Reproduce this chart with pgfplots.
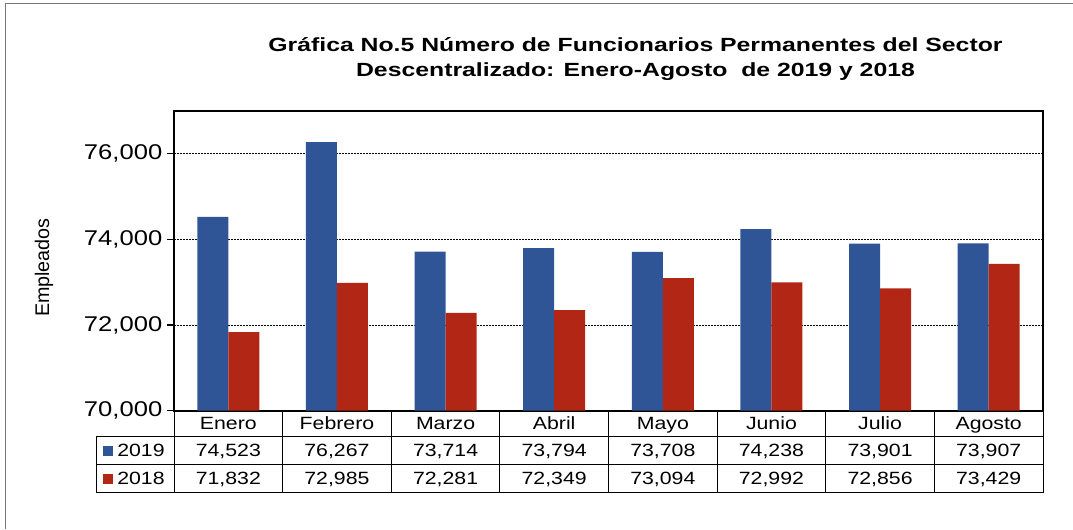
\documentclass[border=0pt]{standalone}
\usepackage{pgfplots}
\usepackage{pgfplotstable}
\pgfplotsset{compat=1.18}
\usepackage{fontspec}
\setmainfont{Liberation Sans}
\newfontfamily\wide{Liberation Sans}[FakeStretch=1.2]
\newfontfamily\widet{Liberation Sans}[FakeStretch=1.3]
\definecolor{bblue}{RGB}{47,85,151}
\definecolor{bred}{RGB}{178,38,22}
\definecolor{frame}{RGB}{120,120,120}

\pgfplotstableread{
idx mes v2019 v2018
0 Enero 74523 71832
1 Febrero 76267 72985
2 Marzo 73714 72281
3 Abril 73794 72349
4 Mayo 73708 73094
5 Junio 74238 72992
6 Julio 73901 72856
7 Agosto 73907 73429
}\datatable

\begin{document}
\begin{tikzpicture}
\begin{scope}[x=0.75pt,y=-0.75pt]
\useasboundingbox (0,0) rectangle (1073,529);
\draw[frame, line width=0.9pt] (5.7,529) -- (5.7,3.3) -- (1073,3.3);
\node[align=center, font={\widet\bfseries\fontsize{14.3}{18.75}\selectfont}] at (635.5,59.5)
  {Gráfica No.5 Número de Funcionarios Permanentes del Sector\\Descentralizado: Enero-Agosto\ \ de 2019 y 2018};
\end{scope}

\begin{axis}[
  at={(130.5pt,-308.025pt)}, anchor=south west,
  scale only axis, width=651.75pt, height=225pt,
  ybar=0pt, bar width=23.25pt,
  xmin=-0.5, xmax=7.5, xtick=\empty,
  ymin=70000, ymax=77000,
  ytick={70000,72000,74000,76000},
  ytick pos=left,
  yticklabel style={font={\wide\fontsize{16}{18}\selectfont}},
  /pgf/number format/assume math mode=true,
  /pgf/number format/1000 sep={,},
  scaled y ticks=false,
  tick align=outside, major tick length=5.25pt,
  ytick style={black, line width=0.8pt},
  axis line style={black, line width=1.6pt},
  ymajorgrids,
  major grid style={black, line width=0.5pt, dash pattern=on 1.5pt off 0.75pt},
  ylabel={Empleados},
  ylabel style={font={\fontsize{14.8}{16}\selectfont}, at={(axis description cs:-0.1496,0.477)}, anchor=center},
]
\addplot[fill=bblue, draw=none] table[x=idx, y=v2019] {\datatable};
\addplot[fill=bred, draw=none] table[x=idx, y=v2018] {\datatable};
\end{axis}

\begin{scope}[x=0.75pt,y=-0.75pt]
\def\colw{108.625}
\foreach \i in {0,...,8}{
  \draw[black, line width=0.75pt] ({174+\colw*\i},410.7) -- ({174+\colw*\i},492.7);
}
\draw[black, line width=0.75pt] (96,436.5) -- (96,492.7);
\foreach \yy in {436.5,464.3,492.7}{
  \draw[black, line width=0.75pt] (96,\yy) -- (1043,\yy);
}
\fill[bblue] (103,446) rectangle (113,455.5);
\fill[bred] (103,474) rectangle (113,483.5);
\tikzset{cell/.style={anchor=base, inner sep=0pt, font={\wide\fontsize{13.3}{15}\selectfont}}}
\node[cell, anchor=base west] at (117,456) {2019};
\node[cell, anchor=base west] at (117,484) {2018};
\foreach \i in {0,...,7}{
  \pgfplotstablegetelem{\i}{mes}\of\datatable
  \node[cell] at ({174+\colw*(\i+0.5)},429.3) {\pgfplotsretval};
  \pgfplotstablegetelem{\i}{v2019}\of\datatable
  \node[cell] at ({174+\colw*(\i+0.5)},456) {\pgfmathprintnumber[1000 sep={,},assume math mode=true]{\pgfplotsretval}};
  \pgfplotstablegetelem{\i}{v2018}\of\datatable
  \node[cell] at ({174+\colw*(\i+0.5)},484) {\pgfmathprintnumber[1000 sep={,},assume math mode=true]{\pgfplotsretval}};
}
\end{scope}
\end{tikzpicture}
\end{document}
